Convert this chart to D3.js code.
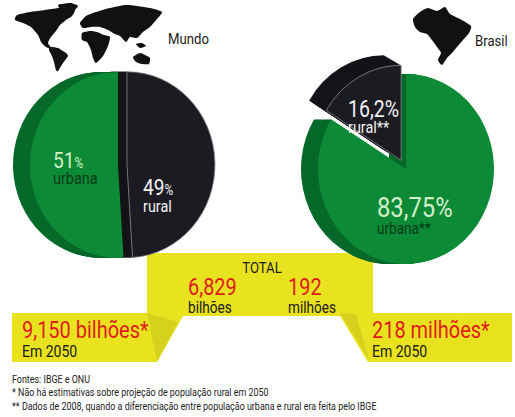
<!DOCTYPE html>
<html>
<head>
<meta charset="utf-8">
<script src="https://cdn.jsdelivr.net/npm/d3@7"></script>
<style>
  body { margin: 0; background: #ffffff; }
  svg { display: block; }
  text { font-family: "Roboto", "Noto Sans", sans-serif; }
</style>
</head>
<body>
<div id="chart"></div>
<script>
// --- data ---
const REGIONS = ["Mundo", "Brasil"];
const URBAN_SHARE = [51, 83.75];
const RURAL_SHARE = [49, 16.2];
const URBAN_VALUE_LABELS = ["51", "83,75"];
const URBAN_NAME_LABELS = ["urbana", "urbana**"];
const RURAL_VALUE_LABELS = ["49", "16,2"];
const RURAL_NAME_LABELS = ["rural", "rural**"];
const TOTAL_VALUES = ["6,829", "192"];
const TOTAL_UNITS = ["bilhões", "milhões"];
const PROJECTION_2050 = ["9,150 bilhões*", "218 milhões*"];
const PROJECTION_LABEL = "Em 2050";
const NOTES = [
  "Fontes: IBGE e ONU",
  "* Não há estimativas sobre projeção de população rural em 2050",
  "** Dados de 2008, quando a diferenciação entre população urbana e rural era feita pelo IBGE",
];

const COLORS = {
  green: "#0c8a36",
  greenDark: "#06692a",
  black: "#1d1b22",
  blackDark: "#141318",
  edge: "#8c8c90",
  yellow: "#e8e31e",
  yellowShade: "#cfc91c",
  red: "#e01b1f",
  mint: "#d3efc8",
  urbanText: "#083c16",
  text: "#1a1a1a",
};

// the reference uses a condensed face: squeeze every text horizontally
const SQUEEZE = 0.85;

// layout of each pie (ellipse face, 3d depth, explode of the rural slice)
const PIE_LAYOUT = [
  {
    cx: 118, cy: 165, rx: 88, ry: 93, explode: 9, ruralFirst: false,
    urbanDepth: [-17, 0], ruralDepth: [-17, 0],
    urbanLabel: { x: 53, y: 168, size: 22.5, pct: 0.62, gap: 16, nameSize: 17 },
    ruralLabel: { x: 143, y: 195, size: 22.5, pct: 0.62, gap: 17, nameSize: 17 },
    name: { x: 168, y: 44 },
  },
  {
    cx: 406, cy: 169, rx: 88, ry: 95, explode: 10, ruralFirst: true,
    urbanDepth: [-17, 0], ruralDepth: [-17, -10],
    urbanLabel: { x: 377, y: 217, size: 28, pct: 1, gap: 17, nameSize: 16 },
    ruralLabel: { x: 348, y: 117, size: 23, pct: 1, gap: 16, nameSize: 17 },
    name: { x: 475, y: 46 },
  },
];

const width = 515;
const height = 417;

const svg = d3
  .select("#chart")
  .append("svg")
  .attr("width", width)
  .attr("height", height)
  .attr("viewBox", `0 0 ${width} ${height}`);

function addText(x, y, str, size, fill, anchor) {
  const t = svg
    .append("text")
    .attr("transform", `translate(${x},${y}) scale(${SQUEEZE},1)`)
    .attr("font-size", size)
    .attr("fill", fill);
  if (anchor) t.attr("text-anchor", anchor);
  if (str !== null) t.text(str);
  return t;
}

// a second line set under the first one, inside the same text element
function addLine(t, str, dy, size, fill) {
  t.append("tspan")
    .attr("x", 0)
    .attr("dy", dy)
    .attr("font-size", size)
    .attr("fill", fill)
    .text(str);
}

// --- yellow band behind the totals ---
const band = [
  [147, 253], [373, 253], [373, 313], [512, 313], [512, 362], [368, 362],
  [340, 316], [183, 316], [157, 362], [12, 362], [12, 313], [147, 313],
];
const closedLine = d3.line().curve(d3.curveLinearClosed);
svg.append("path").attr("d", closedLine(band)).attr("fill", COLORS.yellow);
svg
  .append("path")
  .attr("d", closedLine([[147, 313], [178, 322], [157, 362]]))
  .attr("fill", COLORS.yellowShade)
  .attr("opacity", 0.7);
svg
  .append("path")
  .attr("d", closedLine([[340, 313], [356, 314], [369, 360]]))
  .attr("fill", COLORS.yellowShade)
  .attr("opacity", 0.7);

// --- map silhouettes ---
const worldShapes = [
  [[17, 15], [30, 12], [45, 10], [58, 8], [68, 7], [75, 10], [72, 16], [66, 20], [60, 25], [56, 31], [51, 37], [48, 43], [52, 49], [46, 47], [41, 42], [38, 35], [31, 27], [23, 23], [15, 20]],
  [[58, 5], [70, 3], [78, 6], [71, 13], [63, 12]],
  [[50, 47], [58, 48], [66, 53], [68, 56], [63, 63], [58, 71], [56, 70], [54, 62], [52, 56], [49, 50]],
  [[80, 23], [86, 16], [96, 12], [110, 8], [127, 5], [150, 8], [162, 12], [157, 19], [150, 27], [143, 32], [137, 38], [130, 37], [126, 42], [120, 36], [115, 34], [108, 30], [100, 27], [91, 27], [83, 28]],
  [[82, 33], [90, 31], [97, 32], [104, 35], [110, 37], [108, 46], [103, 56], [96, 63], [93, 58], [91, 50], [87, 42], [82, 40]],
  [[133, 57], [140, 53], [145, 55], [150, 58], [149, 64], [142, 64], [136, 62]],
  [[136, 44], [142, 43], [146, 46], [140, 48]],
];
const brazilShape = [
  [420, 12], [428, 8], [437, 11], [445, 7], [450, 14], [460, 19], [471, 26], [469, 33], [463, 40],
  [457, 47], [452, 53], [447, 58], [442, 65], [438, 60], [441, 53], [437, 47], [432, 40], [427, 34],
  [420, 32], [415, 27], [413, 19],
];
const mapLine = d3.line().curve(d3.curveCardinalClosed.tension(0.4));
svg
  .append("g")
  .selectAll("path")
  .data(worldShapes)
  .join("path")
  .attr("d", (d) => mapLine(d))
  .attr("fill", "#111111");
svg.append("path").attr("d", mapLine(brazilShape)).attr("fill", "#111111");

// --- pies ---
REGIONS.forEach((region, i) => {
  const layout = PIE_LAYOUT[i];
  const slices = [
    { key: "rural", value: RURAL_SHARE[i] },
    { key: "urbana", value: URBAN_SHARE[i] },
  ];
  const total = d3.sum(slices, (d) => d.value);
  const start = layout.ruralFirst ? (-2 * Math.PI * RURAL_SHARE[i]) / total : 0;
  const arcs = d3
    .pie()
    .sort(null)
    .value((d) => d.value)
    .startAngle(start)
    .endAngle(start + 2 * Math.PI)(slices);

  const arc = d3.arc().innerRadius(0).outerRadius(layout.ry);
  const kx = layout.rx / layout.ry;

  const offsetOf = (d) => {
    if (d.data.key !== "rural") return [0, 0];
    const mid = (d.startAngle + d.endAngle) / 2;
    return [layout.explode * Math.sin(mid), -layout.explode * Math.cos(mid)];
  };

  const pieGroup = svg.append("g").attr("class", `pie pie-${region}`);
  const drawOrder = [arcs[1], arcs[0]];

  // depth layers (drawn back to front)
  drawOrder.forEach((d) => {
    const [ox, oy] = offsetOf(d);
    const depth = d.data.key === "rural" ? layout.ruralDepth : layout.urbanDepth;
    const steps = Math.ceil(Math.hypot(depth[0], depth[1]));
    const fill = d.data.key === "rural" ? COLORS.blackDark : COLORS.greenDark;
    for (let s = steps; s >= 1; s--) {
      const t = s / steps;
      pieGroup
        .append("g")
        .attr(
          "transform",
          `translate(${layout.cx + ox + depth[0] * t},${layout.cy + oy + depth[1] * t}) scale(${kx},1)`
        )
        .append("path")
        .attr("d", arc(d))
        .attr("fill", fill);
    }
  });

  // front faces
  drawOrder.forEach((d) => {
    const [ox, oy] = offsetOf(d);
    const isRural = d.data.key === "rural";
    pieGroup
      .append("g")
      .attr("transform", `translate(${layout.cx + ox},${layout.cy + oy}) scale(${kx},1)`)
      .append("path")
      .attr("d", arc(d))
      .attr("fill", isRural ? COLORS.black : COLORS.green)
      .attr("stroke", isRural ? COLORS.edge : "none")
      .attr("stroke-width", 0.8)
      .attr("vector-effect", "non-scaling-stroke");
  });

  // labels: value (with %) and slice name in one text element
  const addValueLabel = (lab, value, name, valueColor, nameColor) => {
    const t = addText(lab.x, lab.y, null, lab.size, valueColor);
    t.append("tspan").text(value);
    t.append("tspan").attr("font-size", lab.size * lab.pct).text("%");
    addLine(t, name, lab.gap, lab.nameSize, nameColor);
  };
  addValueLabel(layout.urbanLabel, URBAN_VALUE_LABELS[i], URBAN_NAME_LABELS[i], COLORS.mint, COLORS.urbanText);
  addValueLabel(layout.ruralLabel, RURAL_VALUE_LABELS[i], RURAL_NAME_LABELS[i], "#f2f2f2", "#f2f2f2");

  addText(layout.name.x, layout.name.y, region, 15.5, COLORS.text);
});

// --- totals ---
addText(262, 273, "TOTAL", 15.5, COLORS.text, "middle");

const TOTAL_X = [188, 288];
TOTAL_VALUES.forEach((value, i) => {
  const t = addText(TOTAL_X[i], 295, value, 23.5, COLORS.red);
  addLine(t, TOTAL_UNITS[i], 18, 16, COLORS.text);
});

const PROJ_X = [22, 372];
PROJECTION_2050.forEach((value, i) => {
  const t = addText(PROJ_X[i], 338, value, 23.5, COLORS.red);
  addLine(t, PROJECTION_LABEL, 19, 16.5, COLORS.text);
});

// --- notes ---
const notes = addText(12, 383, null, 10.5, "#222222");
NOTES.forEach((note, i) => {
  notes
    .append("tspan")
    .attr("x", 0)
    .attr("dy", i === 0 ? 0 : 13.5)
    .text(note);
});
</script>
</body>
</html>
